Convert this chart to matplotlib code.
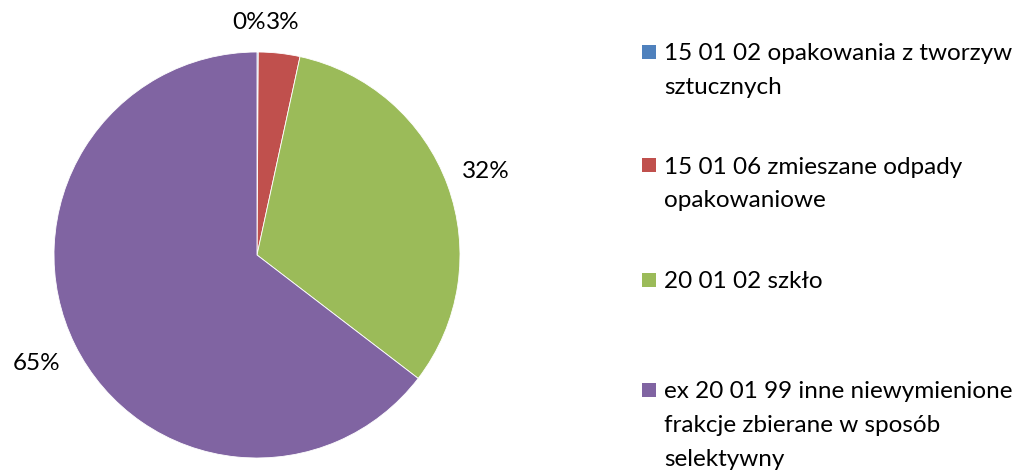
import matplotlib
matplotlib.use("Agg")
import matplotlib.pyplot as plt
from matplotlib.patches import Rectangle

categories = [
    "15 01 02 opakowania z tworzyw\nsztucznych",
    "15 01 06 zmieszane odpady\nopakowaniowe",
    "20 01 02 szkło",
    "ex 20 01 99 inne niewymienione\nfrakcje zbierane w sposób\nselektywny",
]
values = [0.1, 3.3, 32.0, 64.6]
pct_labels = ["0%", "3%", "32%", "65%"]
colors = ["#4F81BD", "#C0504D", "#9BBB59", "#8064A2"]

plt.rcParams['font.family'] = ['Lato', 'DejaVu Sans']

W, H = 1019, 470
fig = plt.figure(figsize=(W / 100, H / 100), dpi=100)
cx, cy, r = 257, 255, 203
ax = fig.add_axes([(cx - r) / W, (H - cy - r) / H, 2 * r / W, 2 * r / H])
wedges, texts = ax.pie(values, colors=colors, startangle=90, counterclock=False,
                       labels=pct_labels, labeldistance=1.2,
                       wedgeprops=dict(edgecolor='white', linewidth=0.6),
                       textprops=dict(fontsize=17.5, color='#000000'))
label_r = [1.15, 1.15, 1.2, 1.21]
for t, lr in zip(texts, label_r):
    x, y = t.get_position()
    t.set_position((x / 1.2 * lr, y / 1.2 * lr))
    t.set_ha('center')
    t.set_va('center')
ax.set_xlim(-1, 1)
ax.set_ylim(-1, 1)
ax.set_aspect('equal')

# place the tiny "0%" label right next to "3%" (as the reference does)
fig.canvas.draw()
bb = texts[1].get_window_extent()
x0, _ = ax.transData.inverted().transform((bb.x0, bb.y0))
texts[0].set_position((x0, texts[1].get_position()[1]))
texts[0].set_ha('right')

# legend
entry_y = [52, 165, 280, 390]
line_h = 33.5
sq = 14
for cat, col, y in zip(categories, colors, entry_y):
    fig.patches.append(Rectangle((642 / W, (H - y - sq / 2) / H), sq / W, sq / H,
                                 transform=fig.transFigure, facecolor=col, edgecolor='none'))
    for i, line in enumerate(cat.split("\n")):
        fig.text(664 / W, (H - y - i * line_h) / H, line, fontsize=17.5, ha='left',
                 va='center_baseline', transform=fig.transFigure)

fig.savefig("out.png", dpi=100)
